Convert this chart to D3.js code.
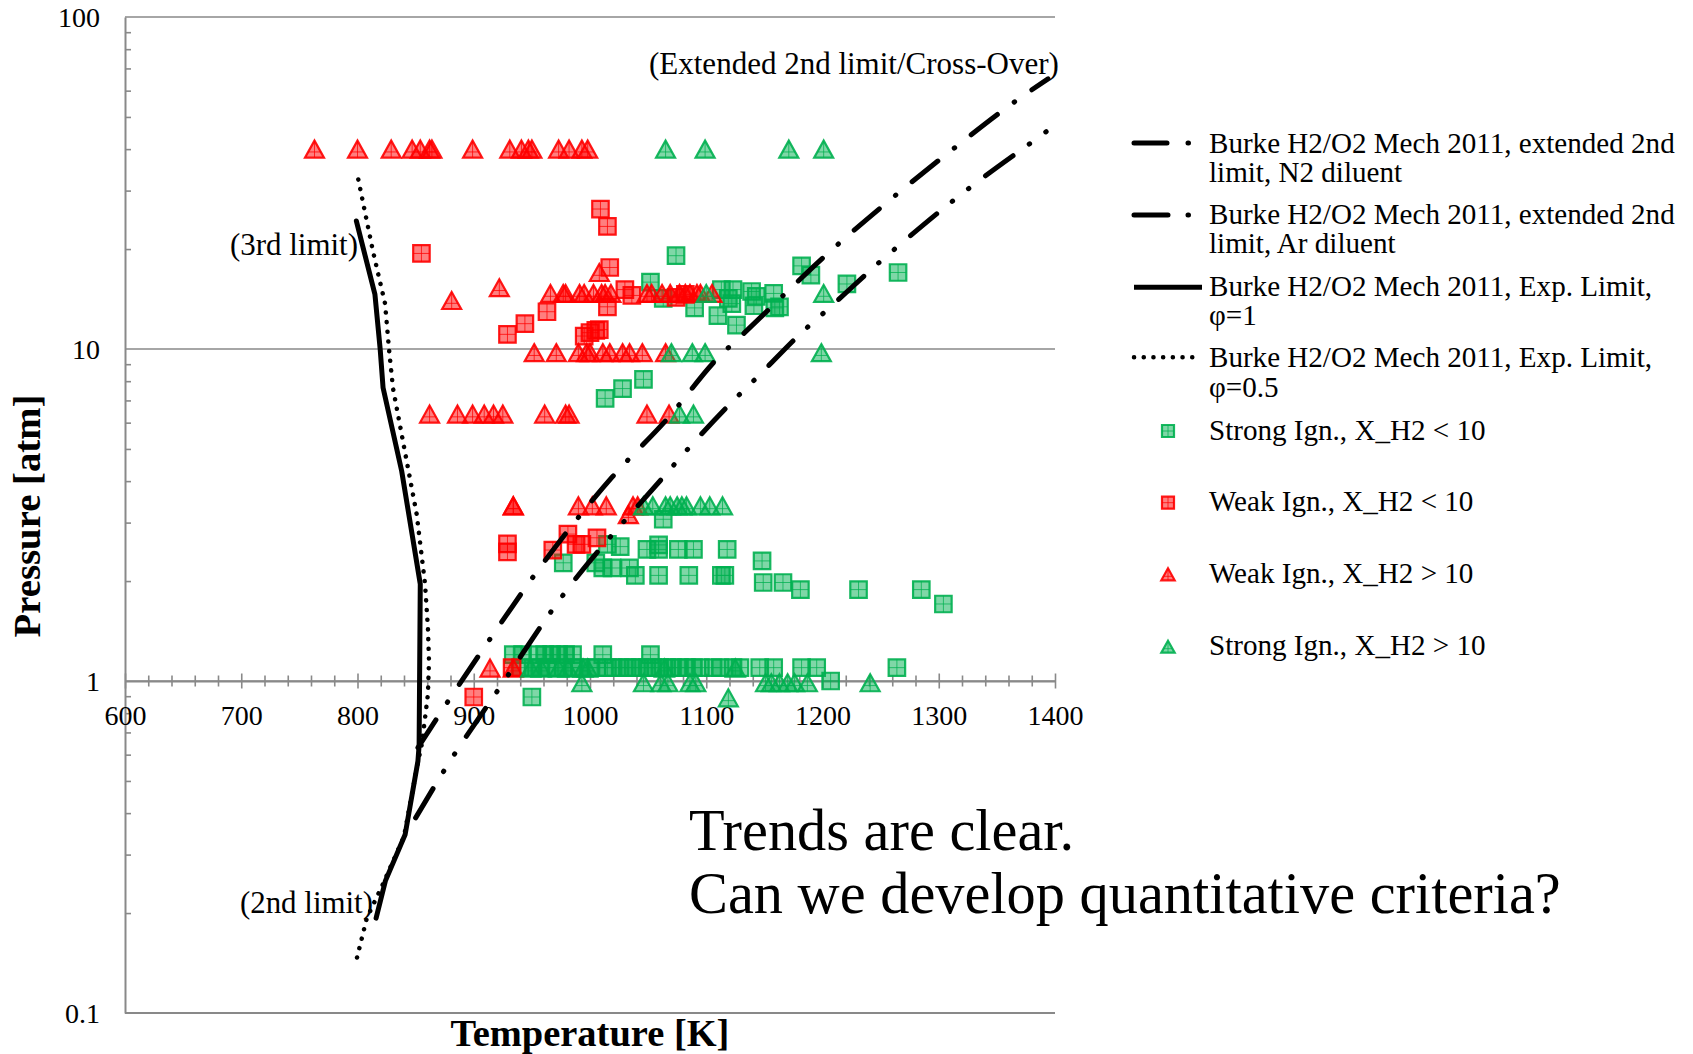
<!DOCTYPE html>
<html><head><meta charset="utf-8">
<script src="https://cdn.jsdelivr.net/npm/d3@7"></script>
<style>body{margin:0;background:#fff}svg{display:block}</style>
</head><body>
<svg id="c" width="1693" height="1054"></svg>
<script>
// ---------------- DATA ----------------
const xMajorTicks = [600, 700, 800, 900, 1000, 1100, 1200, 1300, 1400];
const yMajorTicks = [0.1, 1, 10, 100];
const yTickLabels = ["0.1", "1", "10", "100"];

// Burke H2/O2 Mech 2011, extended 2nd limit, N2 diluent
const limitN2T = [852, 878, 916, 955, 1019, 1067, 1109, 1133, 1208, 1260, 1313, 1367, 1394];
const limitN2P = [0.63, 0.87, 1.37, 2.15, 4.11, 6.19, 9.32, 11.2, 19.9, 28.5, 40.2, 56.1, 65.1];
// Burke H2/O2 Mech 2011, extended 2nd limit, Ar diluent
const limitArT = [850, 877, 925, 973, 1063, 1086, 1122, 1146, 1182, 1208, 1247, 1272, 1313, 1340, 1383, 1402];
const limitArP = [0.387, 0.555, 0.986, 1.74, 4.11, 5.08, 6.92, 8.37, 11.2, 13.5, 18.0, 21.4, 28.1, 33.2, 42.7, 47.8];
// Exp. limit, phi = 1
const expPhi1T = [799, 815, 819.5, 822, 838, 854, 853, 852, 841, 824, 816];
const expPhi1P = [24.3, 14.6, 10, 7.64, 4.29, 1.96, 0.64, 0.574, 0.345, 0.25, 0.193];
// Exp. limit, phi = 0.5
const expPhi05T = [800.7, 813.3, 823.7, 827.1, 830.5, 842.3, 850.9, 858.1, 860.6, 861.5, 860.6, 855.5, 852, 840, 822, 808, 799.3];
const expPhi05P = [32.4, 19.7, 13.7, 10.0, 7.63, 4.60, 3.18, 1.96, 1.44, 1.15, 0.914, 0.65, 0.57, 0.34, 0.245, 0.193, 0.1455];

// Strong Ign., X_H2 < 10
const strongLowT = [1074, 1182, 1190, 1265, 1221, 1052, 1063, 1090, 1113, 1123, 1139, 1158, 1143, 1119, 1122, 1159, 1163, 1141, 1110, 1126,
  1013, 1028, 1046, 1063,
  977, 1005, 1011, 1019, 1015, 1026, 1034, 1039, 1049, 1059, 1059, 1059, 1076, 1089, 1085, 1113, 1116, 1118, 1148, 1149, 1166, 1181, 1231, 1285, 1304,
  934, 942, 955, 961, 967, 973, 979, 985, 1011, 1052,
  940, 951, 957, 963, 972, 977, 985, 991, 1000, 1006, 1015, 1020, 1026, 1032, 1037, 1043, 1049, 1054, 1060, 1066, 1071, 1077, 1083, 1089, 1095, 1106, 1112, 1123, 1129, 1146, 1158, 1182, 1195, 1264,
  1207, 950];
const strongLowP = [19.1, 17.8, 16.7, 17.0, 15.7, 15.9, 14.2, 13.3, 15.1, 15.1, 14.9, 14.7, 14.4, 14.2, 13.7, 13.3, 13.4, 13.5, 12.6, 11.8,
  7.1, 7.6, 8.1, 3.07,
  2.27, 2.27, 2.19, 2.19, 2.58, 2.54, 2.19, 2.08, 2.49, 2.57, 2.49, 2.08, 2.49, 2.49, 2.08, 2.08, 2.08, 2.49, 2.30, 1.98, 1.98, 1.885, 1.885, 1.885, 1.706,
  1.2, 1.2, 1.2, 1.2, 1.2, 1.2, 1.2, 1.2, 1.2, 1.2,
  1.097, 1.097, 1.097, 1.097, 1.097, 1.097, 1.097, 1.097, 1.097, 1.097, 1.097, 1.097, 1.097, 1.097, 1.097, 1.097, 1.097, 1.097, 1.097, 1.097, 1.097, 1.097, 1.097, 1.097, 1.097, 1.097, 1.097, 1.097, 1.097, 1.097, 1.097, 1.097, 1.097, 1.097,
  1.0, 0.895];

// Weak Ign., X_H2 < 10
const weakLowT = [1009, 1015, 855, 1017, 1030, 1036, 1074, 1082, 1015, 929, 944, 963, 995, 1000, 1005, 1008, 929, 929, 968, 981, 988, 993, 1006, 933, 900];
const weakLowP = [26.4, 23.4, 19.4, 17.6, 15.1, 14.5, 14.3, 14.6, 13.4, 11.07, 11.92, 12.95, 10.94, 11.2, 11.38, 11.44, 2.59, 2.45, 2.48, 2.77, 2.58, 2.58, 2.70, 1.097, 0.895];

// Weak Ign., X_H2 > 10
const weakHighT = [763, 800, 829, 847, 854, 862, 864, 899, 931, 941, 947, 950, 973, 982, 993, 998,
  1008, 922, 881,
  966, 977, 979, 991, 995, 1003, 1010, 1013, 1018, 1049, 1053, 1062, 1069, 1077, 1082, 1086, 1092, 1095, 1105,
  952, 971, 990, 997, 1000, 1011, 1017, 1028, 1034, 1045, 1065,
  862, 886, 899, 909, 917, 925, 961, 979, 982, 1049, 1068,
  934, 934, 990, 1002, 1014, 1037, 1041, 1033,
  914, 934];
const weakHighP = [40, 40, 40, 40, 40, 40, 40, 40, 40, 40, 40, 40, 40, 40, 40, 40,
  17.0, 15.3, 14.0,
  14.7, 14.7, 14.7, 14.7, 14.7, 14.7, 14.7, 14.7, 14.7, 14.7, 14.7, 14.7, 14.7, 14.7, 14.7, 14.7, 14.7, 14.7, 14.7,
  9.75, 9.75, 9.75, 9.75, 9.75, 9.75, 9.75, 9.75, 9.75, 9.75, 9.75,
  6.37, 6.37, 6.37, 6.37, 6.37, 6.37, 6.37, 6.37, 6.37, 6.37, 6.37,
  3.37, 3.37, 3.37, 3.37, 3.37, 3.37, 3.37, 3.17,
  1.094, 1.094];

// Strong Ign., X_H2 > 10
const strongHighT = [1065, 1099, 1171, 1201,
  1100, 1201,
  1070, 1088, 1099, 1199,
  1077, 1089,
  1046, 1054, 1065, 1069, 1075, 1079, 1083, 1095, 1103, 1114,
  949, 958, 973, 981, 994, 998, 1064, 1125,
  993, 1046, 1061, 1067, 1086, 1091, 1151, 1156, 1163, 1170, 1176, 1187, 1241,
  1119];
const strongHighP = [40, 40, 40, 40,
  14.7, 14.7,
  9.75, 9.75, 9.75, 9.75,
  6.37, 6.37,
  3.37, 3.37, 3.37, 3.37, 3.37, 3.37, 3.37, 3.37, 3.37, 3.37,
  1.094, 1.094, 1.094, 1.094, 1.094, 1.094, 1.094, 1.094,
  0.988, 0.988, 0.988, 0.988, 0.988, 0.988, 0.988, 0.988, 0.988, 0.988, 0.988, 0.988, 0.988,
  0.89];

const lineNames = [
  ["Burke H2/O2 Mech 2011, extended 2nd", "limit, N2 diluent"],
  ["Burke H2/O2 Mech 2011, extended 2nd", "limit, Ar diluent"],
  ["Burke H2/O2 Mech 2011, Exp. Limit,", "φ=1"],
  ["Burke H2/O2 Mech 2011, Exp. Limit,", "φ=0.5"]
];
const markerNames = ["Strong Ign., X_H2 < 10", "Weak Ign., X_H2 < 10", "Weak Ign., X_H2 > 10", "Strong Ign., X_H2 > 10"];

// ---------------- DRAWING ----------------
const svg = d3.select("#c");
const FONT = "'Liberation Serif','Times New Roman',serif";
const GRAY = "#898989";
const GREEN = "#00B050", RED = "#FF0000";

const x = d3.scaleLinear().domain([600, 1400]).range([125, 1055]);
const y = d3.scaleLog().domain([0.1, 100]).range([1013, 17]);

function fit(sel, target) {
  const fs = parseFloat(sel.attr("font-size"));
  const w = sel.node().getComputedTextLength();
  const nfs = fs * target / w;
  sel.attr("font-size", nfs);
  return nfs;
}

// gridlines
svg.append("g").selectAll("line").data(yMajorTicks).join("line")
  .attr("x1", x(600)).attr("x2", x(1400))
  .attr("y1", d => y(d)).attr("y2", d => y(d))
  .attr("stroke", GRAY).attr("stroke-width", d => d === 0.1 ? 2 : 1.6);

// y axis
const yMinor = [];
[0.1, 1, 10].forEach(d => { for (let m = 2; m <= 9; m++) yMinor.push(+(m * d).toPrecision(3)); });
const yAx = svg.append("g").attr("transform", `translate(${x(600)},0)`)
  .call(d3.axisLeft(y).tickValues(yMajorTicks).tickFormat((d, i) => yTickLabels[i]).tickSize(0).tickPadding(25));
yAx.select(".domain").attr("stroke", GRAY).attr("stroke-width", 2);
yAx.selectAll("text").attr("font-family", FONT).attr("font-size", 28).attr("fill", "#000").attr("dy", "0.33em");
svg.append("g").attr("transform", `translate(${x(600)},0)`)
  .call(d3.axisRight(y).tickValues(yMinor).tickFormat("").tickSize(6))
  .call(g => g.select(".domain").remove())
  .selectAll("line").attr("stroke", GRAY).attr("stroke-width", 1.6);

// x axis at P = 1
const xMinor = d3.range(620, 1400, 20).filter(v => v % 100 !== 0);
const xAx = svg.append("g").attr("transform", `translate(0,${y(1)})`)
  .call(d3.axisBottom(x).tickValues(xMajorTicks).tickFormat(d3.format("d")).tickSizeInner(7.5).tickSizeOuter(0));
xAx.select(".domain").attr("stroke", GRAY).attr("stroke-width", 2);
xAx.selectAll(".tick line").attr("y1", -7.5).attr("stroke", GRAY).attr("stroke-width", 1.6);
xAx.selectAll(".tick text").attr("y", 34).attr("dy", "0.35em").attr("font-family", FONT).attr("font-size", 28).attr("fill", "#000");
svg.append("g").attr("transform", `translate(0,${y(1)})`)
  .call(d3.axisBottom(x).tickValues(xMinor).tickFormat("").tickSizeInner(5.5).tickSizeOuter(0))
  .call(g => g.select(".domain").remove())
  .selectAll("line").attr("y1", -5.5).attr("stroke", GRAY).attr("stroke-width", 1.6);

// markers
const SQ = 16.5, TW = 19, TH = 17;
function markerPaths(shape, s) {
  if (shape === "square") {
    const h = s / 2;
    return { outline: `M${-h},${-h}H${h}V${h}H${-h}Z`, inner: `M${-h},0H${h}M0,${-h}V${h}` };
  }
  const w = s * TW / TH / 2, h = s / 2;
  const yy = h / 3, hw = w * ((yy + h) / (2 * h));
  return { outline: `M0,${-h}L${w},${h}L${-w},${h}Z`, inner: `M0,${-h}V${h}M${-hw},${yy}H${hw}` };
}
function drawMarker(g, shape, color, s) {
  const p = markerPaths(shape, s);
  g.append("path").attr("d", p.outline).attr("fill", color).attr("fill-opacity", 0.5)
    .attr("stroke", color).attr("stroke-opacity", 0.9).attr("stroke-width", 2.2);
  g.append("path").attr("d", p.inner).attr("fill", "none").attr("stroke", color).attr("stroke-opacity", 0.75).attr("stroke-width", 1);
}
const seriesList = [
  { T: strongLowT, P: strongLowP, shape: "square", color: GREEN },
  { T: weakLowT, P: weakLowP, shape: "square", color: RED },
  { T: weakHighT, P: weakHighP, shape: "triangle", color: RED },
  { T: strongHighT, P: strongHighP, shape: "triangle", color: GREEN }
];
const mLayer = svg.append("g");
seriesList.forEach(s => {
  const pts = s.T.map((t, i) => ({ T: t, P: s.P[i] }));
  mLayer.append("g").selectAll("g").data(pts).join("g")
    .attr("transform", d => `translate(${x(d.T)},${y(d.P)})`)
    .each(function () { drawMarker(d3.select(this), s.shape, s.color, s.shape === "square" ? SQ : TH); });
});

// limit curves
svg.append("clipPath").attr("id", "pc").append("rect")
  .attr("x", x(600)).attr("y", y(100)).attr("width", x(1400) - x(600)).attr("height", y(0.1) - y(100));
const lineStyles = [
  { T: limitN2T, P: limitN2P, dash: "33 21 0.5 21", w: 5, curve: d3.curveMonotoneX },
  { T: limitArT, P: limitArP, dash: "34 20 0.5 20 0.5 21", w: 5, curve: d3.curveMonotoneX },
  { T: expPhi1T, P: expPhi1P, dash: null, w: 5, curve: d3.curveLinear },
  { T: expPhi05T, P: expPhi05P, dash: "0.1 9.6", w: 4.5, curve: d3.curveLinear }
];
const lLayer = svg.append("g").attr("clip-path", "url(#pc)");
lineStyles.forEach(ls => {
  const pts = ls.T.map((t, i) => ({ T: t, P: ls.P[i] }));
  const gen = d3.line().x(d => x(d.T)).y(d => y(d.P)).curve(ls.curve);
  lLayer.append("path").datum(pts).attr("d", gen).attr("fill", "none").attr("stroke", "#000")
    .attr("stroke-width", ls.w).attr("stroke-linecap", "round").attr("stroke-linejoin", "round")
    .attr("stroke-dasharray", ls.dash);
});

// ---------------- LEGEND ----------------
const leg = svg.append("g");
const legTextX = 1209;
const lineLegY = [143, 215, 287.3, 357.3];
const lineLegBase = [[152.7, 181.7], [224, 253.3], [296, 324.7], [366.7, 397]];
const sampleEnd = [1195, 1195, 1202, 1198];
const probe = leg.append("text").attr("font-family", FONT).attr("font-size", 26).text(lineNames[0][0]);
const legFS = fit(probe, 466);
probe.remove();
lineStyles.forEach((ls, i) => {
  leg.append("line").attr("x1", 1134).attr("x2", sampleEnd[i]).attr("y1", lineLegY[i]).attr("y2", lineLegY[i])
    .attr("stroke", "#000").attr("stroke-width", ls.w).attr("stroke-linecap", i === 2 ? "butt" : "round")
    .attr("stroke-dasharray", ls.dash);
  lineNames[i].forEach((t, j) => {
    leg.append("text").attr("x", legTextX).attr("y", lineLegBase[i][j]).attr("font-family", FONT)
      .attr("font-size", legFS).attr("fill", "#000").text(t);
  });
});
const markLegY = [431, 502.7, 574.3, 646.7];
seriesList.forEach((s, i) => {
  const g = leg.append("g").attr("transform", `translate(1168,${markLegY[i]})`);
  drawMarker(g, s.shape, s.color, 12);
  leg.append("text").attr("x", legTextX).attr("y", markLegY[i] + 8.5).attr("font-family", FONT)
    .attr("font-size", legFS).attr("fill", "#000").text(markerNames[i]);
});

// ---------------- ANNOTATIONS ----------------
const ann = svg.append("g").attr("font-family", FONT).attr("fill", "#000");
const ext = ann.append("text").attr("x", 649).attr("y", 74).attr("font-size", 26).text("(Extended 2nd limit/Cross-Over)");
fit(ext, 410);
const l3 = ann.append("text").attr("x", 358).attr("y", 255).attr("text-anchor", "end").attr("font-size", 26).text("(3rd limit)");
const lfs = fit(l3, 128);
ann.append("text").attr("x", 373).attr("y", 913).attr("text-anchor", "end").attr("font-size", lfs).text("(2nd limit)");

const big2 = ann.append("text").attr("x", 689).attr("y", 913).attr("font-size", 50).text("Can we develop quantitative criteria?");
const bfs = fit(big2, 872);
ann.append("text").attr("x", 689).attr("y", 850).attr("font-size", bfs).text("Trends are clear.");

const xt = ann.append("text").attr("x", 590).attr("y", 1046).attr("text-anchor", "middle")
  .attr("font-weight", "bold").attr("font-size", 28).text("Temperature [K]");
fit(xt, 279);
const yt = ann.append("text").attr("transform", "translate(40,516) rotate(-90)").attr("text-anchor", "middle")
  .attr("font-weight", "bold").attr("font-size", 28).text("Pressure [atm]");
fit(yt, 243);
</script>
</body></html>
